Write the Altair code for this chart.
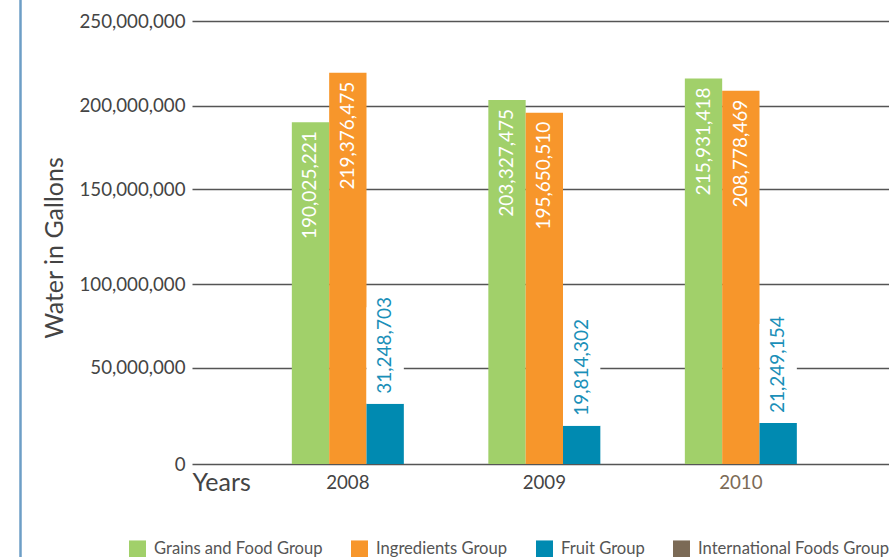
import altair as alt
import pandas as pd

years = ["2008", "2009", "2010"]
groups = ["Grains and Food Group", "Ingredients Group", "Fruit Group", "International Foods Group"]
grains = [190025221, 203327475, 215931418]
ingredients = [219376475, 195650510, 208778469]
fruit = [31248703, 19814302, 21249154]
colors = ["#a1d06a", "#f7962b", "#008ab1", "#7b6a56"]
y_ticks = [0, 50000000, 100000000, 150000000, 200000000, 250000000]
# the reference's value axis is drawn with uneven gaps between its gridlines
y_tick_pixels = [443, 346.7, 263.3, 168.3, 84.5, 0]

rows = []
for i, yr in enumerate(years):
    for g, vals in zip(groups[:3], [grains, ingredients, fruit]):
        rows.append({"year": yr, "group": g, "value": vals[i]})
df = pd.DataFrame(rows)

FONT = "Lato"

x_enc = alt.X(
    "year:N",
    scale=alt.Scale(domain=years, paddingInner=0.43, paddingOuter=0.4885, align=0.52),
    axis=alt.Axis(
        title="Years", titleX=0, titleY=26, titleAlign="left", titleAnchor="start",
        titleBaseline="alphabetic", titleFont=FONT, titleFontSize=25, titleFontWeight="normal",
        titleColor="#444", labelFont=FONT, labelFontSize=18.7, labelPadding=9, labelAngle=0,
        labelColor={"condition": {"test": "datum.value === '2010'", "value": "#7b6a56"}, "value": "#444"},
        ticks=False, domain=False, grid=False,
    ),
)
xo_enc = alt.XOffset("group:N", scale=alt.Scale(domain=groups[:3], paddingInner=0, paddingOuter=0))
y_enc = alt.Y(
    "value:Q",
    scale=alt.Scale(domain=y_ticks, range=y_tick_pixels, nice=False, zero=True),
    axis=alt.Axis(
        values=y_ticks, format=",d", labelFont=FONT, labelFontSize=18.7, labelColor="#444",
        labelPadding=7, ticks=False, domain=False, grid=True, gridColor="#555", gridWidth=1.5,
        title="Water in Gallons", titleFont=FONT, titleFontSize=25, titleFontWeight="normal",
        titleColor="#444", titleX=-130, titleY=226.5, titleAngle=270, titleAlign="center",
        titleBaseline="alphabetic",
    ),
)

base = alt.Chart(df)

bars = base.mark_bar().encode(
    x=x_enc, xOffset=xo_enc, y=y_enc,
    color=alt.Color(
        "group:N",
        scale=alt.Scale(domain=groups, range=colors),
        legend=alt.Legend(
            orient="none", legendX=-63, legendY=519, direction="horizontal", title=None,
            symbolType="square", symbolSize=289, symbolStrokeWidth=0, symbolOpacity=1,
            labelFont=FONT, labelFontSize=16.6, labelColor="#555", labelOffset=8,
            columnPadding=28, padding=0, labelLimit=400,
        ),
    ),
)

gap = base.transform_filter(alt.datum.group == "Fruit Group").transform_calculate(
    top="datum.value + 55000000"
).mark_bar(fill="white").encode(x=x_enc, xOffset=xo_enc, y=y_enc, y2="top:Q")

inside = base.transform_filter(alt.datum.group != "Fruit Group").mark_text(
    angle=270, align="right", baseline="middle", dx=-9, font=FONT, fontSize=19, color="white"
).encode(x=x_enc, xOffset=xo_enc, y=y_enc, text=alt.Text("value:Q", format=",d"))

above = base.transform_filter(alt.datum.group == "Fruit Group").mark_text(
    angle=270, align="left", baseline="middle", dx=10, font=FONT, fontSize=19, color="#1a8fb8"
).encode(x=x_enc, xOffset=xo_enc, y=y_enc, text=alt.Text("value:Q", format=",d"))

border = alt.Chart(pd.DataFrame({"v": [0]})).mark_rule(color="#6d9ec6", strokeWidth=2.5).encode(
    x=alt.value(-171.5), y=alt.value(-25), y2=alt.value(540)
)

chart = alt.layer(bars, gap, inside, above, border).properties(
    width=697, height=443,
    autosize=alt.AutoSizeParams(type="none"),
    padding={"left": 192, "top": 21, "right": 0, "bottom": 93},
    background="white",
).configure_view(stroke=None)

chart.save("out.html", embed_options={"renderer": "svg", "actions": False})
